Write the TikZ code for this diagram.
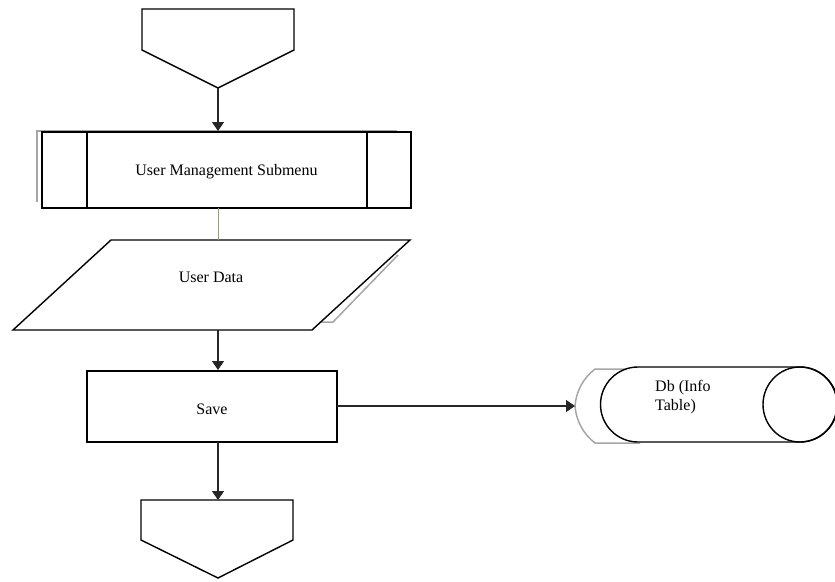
\documentclass[tikz,border=0pt]{standalone}
\usepackage{fontspec}
\setmainfont{Liberation Serif}
\usetikzlibrary{arrows.meta}
\definecolor{olivelink}{RGB}{150,160,115}
\tikzset{
  shapeline/.style={draw=black, line width=1.4pt},
  shadowline/.style={draw=gray!70, line width=1.5pt},
  conn/.style={draw=black!85, line width=1.3pt, -{Triangle[length=9pt,width=12pt]}},
  lbl/.style={font=\fontsize{16}{19}\selectfont, inner sep=0pt},
}
\begin{document}
\begin{tikzpicture}[x=1pt,y=-1pt]
\useasboundingbox (0,0) rectangle (835,581);
% start off-page connector
\draw[shapeline] (142,9) -- (294,9) -- (294,50) -- (218,88) -- (142,50) -- cycle;
\coordinate (starttip) at (218,88);
% submenu (predefined process) with shadow
\draw[shadowline] (37,202) -- (37,131) -- (397,131);
\node[shapeline, fill=white, minimum width=369pt, minimum height=76pt, inner sep=0pt] (sub) at (226.5,170) {};
\draw[shapeline] (87,132) -- (87,208);
\draw[shapeline] (367,132) -- (367,208);
\node[lbl] (subtext) at (226.5,172) {User Management Submenu};
\coordinate (subbot) at (218,208);
\coordinate (subtop) at (218,131);
% data (parallelogram)
\draw[shadowline] (398,255) -- (333,322) -- (318,322);
\draw[shapeline, fill=white] (111,240) -- (410,240) -- (312,330) -- (13,330) -- cycle;
\coordinate (datatop) at (218,240);
\coordinate (databot) at (218,330);
\node[lbl] (data) at (211,277) {User Data};
% save
\node[shapeline, minimum width=250pt, minimum height=71pt, inner sep=0pt] (save) at (212,406.5) {};
\node[lbl] (savetext) at (212,409) {Save};
\coordinate (savetop) at (218,370);
\coordinate (savebot) at (218,442);
\coordinate (saveright) at (337,406);
% end off-page connector
\draw[shapeline] (141,500) -- (293,500) -- (293,540) -- (218,578) -- (141,540) -- cycle;
\coordinate (endtop) at (218,500);
% database
\draw[shadowline] (640,369) -- (595,369) .. controls (583,378) and (576,392) .. (575,406)
  .. controls (576,420) and (583,434) .. (595,443) -- (640,443);
\draw[shapeline, fill=white] (638,367) -- (800,367) arc[start angle=-90, end angle=90, radius=37.5] -- (638,442) arc[start angle=90, end angle=270, radius=37.5] -- cycle;
\draw[shapeline] (800,404.5) ellipse[x radius=37, y radius=37.5];
\coordinate (dbleft) at (575,406);
\node[lbl, align=left, anchor=west] (db) at (655,397) {Db (Info\\Table)};
% connectors
\draw[conn] (starttip) -- (subtop);
\draw[draw=olivelink, line width=1pt] (subbot) -- (datatop);
\draw[conn] (databot) -- (savetop);
\draw[conn] (savebot) -- (endtop);
\draw[conn] (saveright) -- (dbleft);
\end{tikzpicture}
\end{document}
